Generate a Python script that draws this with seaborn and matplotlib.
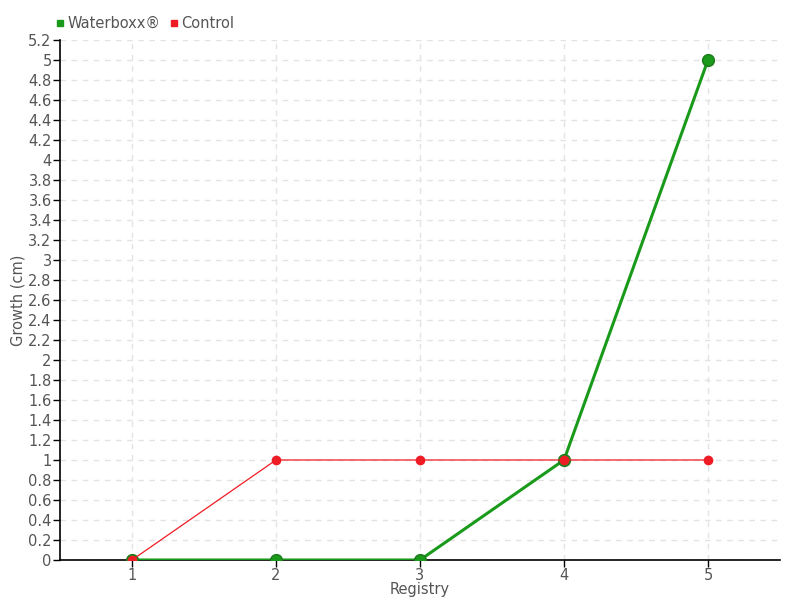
import pandas as pd
import numpy as np
import matplotlib
matplotlib.use('Agg')
import matplotlib.pyplot as plt
import seaborn as sns
from matplotlib.lines import Line2D

sns.set_style('white')
plt.rcParams['font.family'] = ['DejaVu Sans']

# --- data ---
registry = [1, 2, 3, 4, 5]
waterboxx = [0, 0, 0, 1, 5]
control = [0, 1, 1, 1, 1]
series_names = ['Waterboxx®', 'Control']
colors = {'Waterboxx®': '#1a9a1a', 'Control': '#ee1c25'}

df = pd.DataFrame({
    'Registry': registry * 2,
    'Growth': waterboxx + control,
    'Series': [series_names[0]] * len(registry) + [series_names[1]] * len(registry),
})

fig = plt.figure(figsize=(8, 6), dpi=100)
ax = fig.add_axes([0.075, 0.0667, 0.9, 0.8667])

wb = df[df['Series'] == 'Waterboxx®']
ct = df[df['Series'] == 'Control']
sns.lineplot(data=wb, x='Registry', y='Growth', color=colors['Waterboxx®'],
             linewidth=2.2, marker='o', markersize=8.5, markeredgecolor='#1c7a1c',
             markeredgewidth=1, ax=ax, zorder=3, legend=False)
sns.lineplot(data=ct, x='Registry', y='Growth', color=colors['Control'],
             linewidth=0.9, marker='o', markersize=7, markeredgecolor=colors['Control'],
             markeredgewidth=0, ax=ax, zorder=4, legend=False)

ax.set_xlim(0.5, 5.5)
ax.set_ylim(0, 5.2)
ax.set_xticks(registry)
yticks = np.round(np.arange(0, 5.21, 0.2), 1)
ax.set_yticks(yticks)
ax.set_yticklabels([('%g' % v) for v in yticks])

ax.grid(True, color='#e3e3e3', linestyle=(0, (4, 4)), linewidth=1)
for s in ['top', 'right']:
    ax.spines[s].set_visible(False)
for s in ['left', 'bottom']:
    ax.spines[s].set_color('black')
    ax.spines[s].set_linewidth(1.2)

ax.tick_params(axis='both', which='major', length=5, width=1, color='black',
               labelcolor='#555555', labelsize=10.5, pad=1, left=True, bottom=True)
ax.set_xlabel('Registry', color='#555555', fontsize=10.5, labelpad=-1)
ax.set_ylabel('Growth (cm)', color='#555555', fontsize=10.5, labelpad=2)

handles = [Line2D([0], [0], marker='s', color='none', markerfacecolor=colors[n],
                  markeredgecolor=colors[n], markersize=5) for n in series_names]
fig.legend(handles, series_names, loc='upper left', bbox_to_anchor=(0.05, 0.995),
           ncol=2, frameon=False, handletextpad=0.0, columnspacing=0.4,
           handlelength=1.0, prop={'size': 10.5}, labelcolor='#555555')

fig.savefig('out.png', dpi=100)
